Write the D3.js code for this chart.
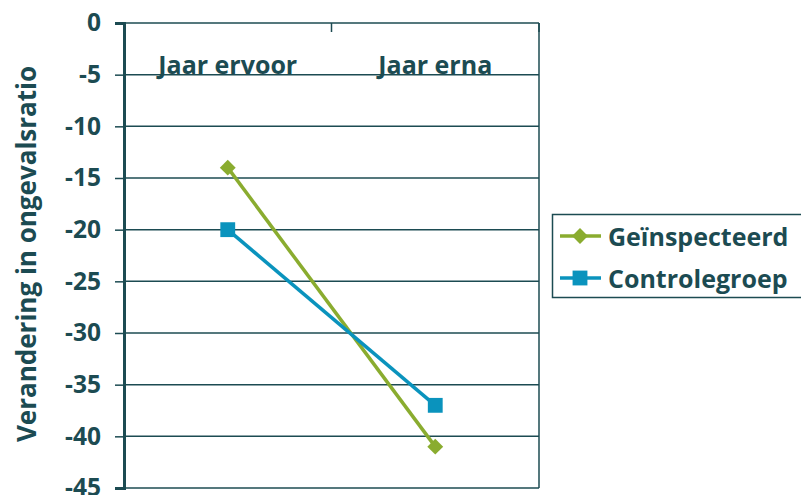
<!DOCTYPE html>
<html>
<head>
<meta charset="utf-8">
<script src="https://cdn.jsdelivr.net/npm/d3@7"></script>
<style>
  html, body { margin: 0; padding: 0; background: #fff; }
  svg { display: block; font-family: "Open Sans", sans-serif; }
</style>
</head>
<body>
<script>
// Categories and series
const categories = ["Jaar ervoor", "Jaar erna"];
const inspected = [-14, -41];
const control = [-20, -37];
const seriesNames = ["Geïnspecteerd", "Controlegroep"];
const yTicks = [0, -5, -10, -15, -20, -25, -30, -35, -40, -45];

const W = 801, H = 495;
const margin = { left: 124, right: 262, top: 23, bottom: 7 };
const textColor = "#1c4b52";
const green = "#8aac2f";
const blue = "#0a93bd";

const svg = d3.select("body").append("svg").attr("width", W).attr("height", H);

const x = d3.scaleBand().domain(categories).range([margin.left, W - margin.right]);
const y = d3.scaleLinear().domain([0, -45]).range([margin.top, H - margin.bottom]);

// Horizontal gridlines
svg.append("g").selectAll("line").data(yTicks).join("line")
  .attr("x1", margin.left).attr("x2", W - margin.right)
  .attr("y1", d => y(d)).attr("y2", d => y(d))
  .attr("stroke", textColor).attr("stroke-width", 1.5);

// Right frame edge
svg.append("line")
  .attr("x1", W - margin.right).attr("x2", W - margin.right)
  .attr("y1", y(0)).attr("y2", y(-45))
  .attr("stroke", textColor).attr("stroke-width", 1.5);

// Y axis
const yAxis = svg.append("g")
  .attr("transform", `translate(${margin.left},0)`)
  .call(d3.axisLeft(y).tickValues(yTicks).tickSize(9).tickPadding(14).tickFormat(d3.format("d")));
yAxis.select(".domain").attr("stroke", textColor).attr("stroke-width", 3);
yAxis.selectAll(".tick line").attr("stroke", textColor).attr("stroke-width", 1.5);
yAxis.selectAll(".tick text")
  .attr("fill", textColor).attr("font-size", 24.5).attr("font-weight", 700)
  .attr("font-family", "Open Sans, sans-serif")
  .text(d => d === 0 ? "0" : "-" + Math.abs(d));

// Category axis along the zero line, separator ticks pointing down
const bounds = [margin.left + x.bandwidth(), W - margin.right];
svg.append("g").selectAll("line").data(bounds).join("line")
  .attr("x1", d => d).attr("x2", d => d)
  .attr("y1", y(0)).attr("y2", y(0) + 9)
  .attr("stroke", textColor).attr("stroke-width", 1.5);

// Category labels just above the -5 gridline
svg.append("g").selectAll("text").data(categories).join("text")
  .attr("x", d => x(d) + x.bandwidth() / 2)
  .attr("y", y(-5) - 1)
  .attr("text-anchor", "middle")
  .attr("fill", textColor).attr("font-size", 25).attr("font-weight", 700)
  .text(d => d);

// Y axis title
svg.append("text")
  .attr("transform", `translate(36,254) rotate(-90)`)
  .attr("text-anchor", "middle")
  .attr("fill", textColor).attr("font-size", 26).attr("font-weight", 700)
  .text("Verandering in ongevalsratio");

const cx = d => x(d) + x.bandwidth() / 2;
const line = d3.line().x((d, i) => cx(categories[i])).y(d => y(d));

// Series lines
svg.append("path").datum(inspected).attr("d", line)
  .attr("fill", "none").attr("stroke", green).attr("stroke-width", 3.5);
svg.append("path").datum(control).attr("d", line)
  .attr("fill", "none").attr("stroke", blue).attr("stroke-width", 3.5);

// Markers
const diamond = d3.symbol().type(d3.symbolDiamond2).size(160);
const square = d3.symbol().type(d3.symbolSquare).size(220);
svg.append("g").selectAll("path").data(inspected).join("path")
  .attr("transform", (d, i) => `translate(${cx(categories[i])},${y(d)})`)
  .attr("d", diamond).attr("fill", green);
svg.append("g").selectAll("path").data(control).join("path")
  .attr("transform", (d, i) => `translate(${cx(categories[i])},${y(d)})`)
  .attr("d", square).attr("fill", blue);

// Legend
const lg = svg.append("g");
lg.append("rect")
  .attr("x", 552.5).attr("y", 214.5).attr("width", 260).attr("height", 83)
  .attr("fill", "#fff").attr("stroke", textColor).attr("stroke-width", 1.5);
const legendItems = [
  { name: seriesNames[0], color: green, sym: diamond, cy: 236 },
  { name: seriesNames[1], color: blue, sym: square, cy: 278 }
];
legendItems.forEach(it => {
  lg.append("line").attr("x1", 560).attr("x2", 601).attr("y1", it.cy).attr("y2", it.cy)
    .attr("stroke", it.color).attr("stroke-width", 3.5);
  lg.append("path").attr("transform", `translate(580,${it.cy})`).attr("d", it.sym).attr("fill", it.color);
  lg.append("text").attr("x", 608).attr("y", it.cy + 10)
    .attr("fill", textColor).attr("font-size", 25).attr("font-weight", 700)
    .text(it.name);
});
</script>
</body>
</html>
